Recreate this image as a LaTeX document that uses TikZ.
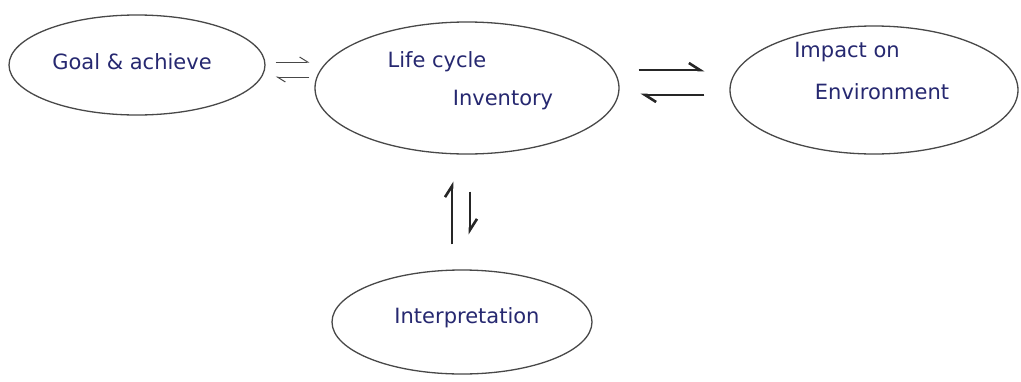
\documentclass[tikz,border=0pt]{standalone}
\usepackage{fontspec}
\setmainfont{DejaVu Sans}
\usetikzlibrary{shapes.geometric,arrows.meta}
\definecolor{ink}{RGB}{38,40,112}
\definecolor{pen}{RGB}{72,72,72}
\begin{document}
\begin{tikzpicture}[x=1pt,y=-1pt,
  bub/.style={ellipse,draw=pen,line width=1.3pt,inner sep=0pt},
  lab/.style={text=ink,inner sep=0pt,font=\fontsize{21}{24}\selectfont},
  thin harp/.style={draw=pen,line width=1pt,-{Straight Barb[left,length=8pt,width=10pt]}},
  thick harp/.style={draw=black!85,line width=2.6pt,-{Straight Barb[left,length=11pt,width=14pt]}}]
\useasboundingbox[fill=white] (0,0) rectangle (1021,381);
% bubbles
\node[bub,minimum width=256pt,minimum height=100pt] (goal) at (137,65) {};
\node[bub,minimum width=304pt,minimum height=132pt] (life) at (467,88) {};
\node[bub,minimum width=288pt,minimum height=128pt] (imp) at (874,90) {};
\node[bub,minimum width=260pt,minimum height=104pt] (interp) at (462,322) {};
% labels
\node[lab] (tgoal) at (132,62) {Goal \& achieve};
\node[lab] (tlife1) at (437,62) {Life cycle};
\node[lab] (tlife2) at (503,100) {Inventory};
\node[lab] (timp1) at (847,52) {Impact on};
\node[lab] (timp2) at (882,92) {Environment};
\node[lab] (tint) at (467,318) {Interpretation};
% goal <-> life
\draw[thin harp] ([xshift=10pt,yshift=3pt]goal.east) -- ([xshift=-5pt,yshift=3pt]goal.east -| life.west);
\draw[thin harp] ([xshift=-5pt,yshift=-12pt]goal.east -| life.west) -- ([xshift=10pt,yshift=-12pt]goal.east);
% life <-> impact
\draw[thick harp] ([xshift=19pt,yshift=18pt]life.east) -- ([xshift=-25pt,yshift=18pt]life.east -| imp.west);
\draw[thick harp] ([xshift=-25pt,yshift=-7pt]life.east -| imp.west) -- ([xshift=21pt,yshift=-7pt]life.east);
% life <-> interpretation
\draw[thick harp] ([xshift=-10pt,yshift=25pt]interp.north) -- ([xshift=-15pt,yshift=-27pt]life.south);
\draw[thick harp] ([xshift=3pt,yshift=-37pt]life.south) -- ([xshift=8pt,yshift=35pt]interp.north);
\end{tikzpicture}
\end{document}
